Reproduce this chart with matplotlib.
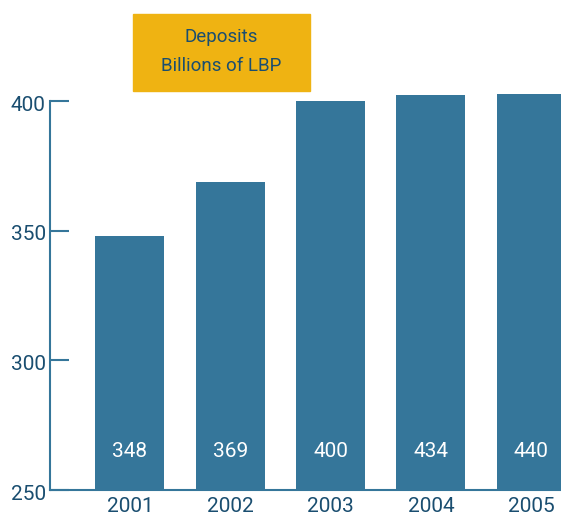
import numpy as np
import matplotlib.pyplot as plt
import matplotlib.transforms as mtransforms

plt.rcParams['font.family'] = ['Roboto', 'DejaVu Sans']

years = ['2001', '2002', '2003', '2004', '2005']
deposits = [348, 369, 400, 434, 440]
yticks = [250, 300, 350, 400]

bar_col = '#35769a'
text_col = '#1a4e70'

# above 400 the axis is squeezed, like in the original chart
def fwd(v):
    v = np.asarray(v, dtype=float)
    return np.where(v > 400, 400 + (v - 400) * 0.07, v)

def inv(v):
    v = np.asarray(v, dtype=float)
    return np.where(v > 400, 400 + (v - 400) / 0.07, v)

fig = plt.figure(figsize=(5.61, 5.16), dpi=100)
ax = fig.add_axes([50/561, 1 - 490/516, 1 - 50/561, (490 - 85)/516])
ax.set_yscale('function', functions=(fwd, inv))

x = np.arange(len(years))
ax.bar(x, deposits, width=0.688, color=bar_col, bottom=0)
ax.set_ylim(250, 490)
ax.set_xlim(-0.797, 4.298)

for i, v in enumerate(deposits):
    ax.text(i, 265, str(v), color='white', ha='center', va='center', fontsize=15)

ax.set_xticks(x)
ax.set_xticklabels(years, fontsize=15, color=text_col)
ax.tick_params(axis='x', length=0, pad=5)
ax.set_yticks(yticks)
ax.set_yticklabels([str(t) for t in yticks], fontsize=15, color=text_col, va='center')
ax.tick_params(axis='y', direction='in', length=14, width=1.5, color=bar_col, pad=3)
ax.yaxis.set_minor_locator(plt.NullLocator())

# labels sit a bit below their ticks
off = mtransforms.ScaledTranslation(0, -4/100, fig.dpi_scale_trans)
for lab in ax.get_yticklabels():
    lab.set_transform(lab.get_transform() + off)

for s in ['top', 'right']:
    ax.spines[s].set_visible(False)
for s in ['left', 'bottom']:
    ax.spines[s].set_color(bar_col)
    ax.spines[s].set_linewidth(1.5)
ax.spines['left'].set_bounds(250, 400)

# title box
fig.patches.append(plt.Rectangle((133/561, 1 - 91/516), 177/561, 77/516,
                                 transform=fig.transFigure, color='#efb312'))
fig.text(221/561, 1 - 37/516, 'Deposits', ha='center', va='center', fontsize=13.5, color=text_col)
fig.text(221/561, 1 - 66/516, 'Billions of LBP', ha='center', va='center', fontsize=13.5, color=text_col)

fig.savefig('out.png', dpi=100)
